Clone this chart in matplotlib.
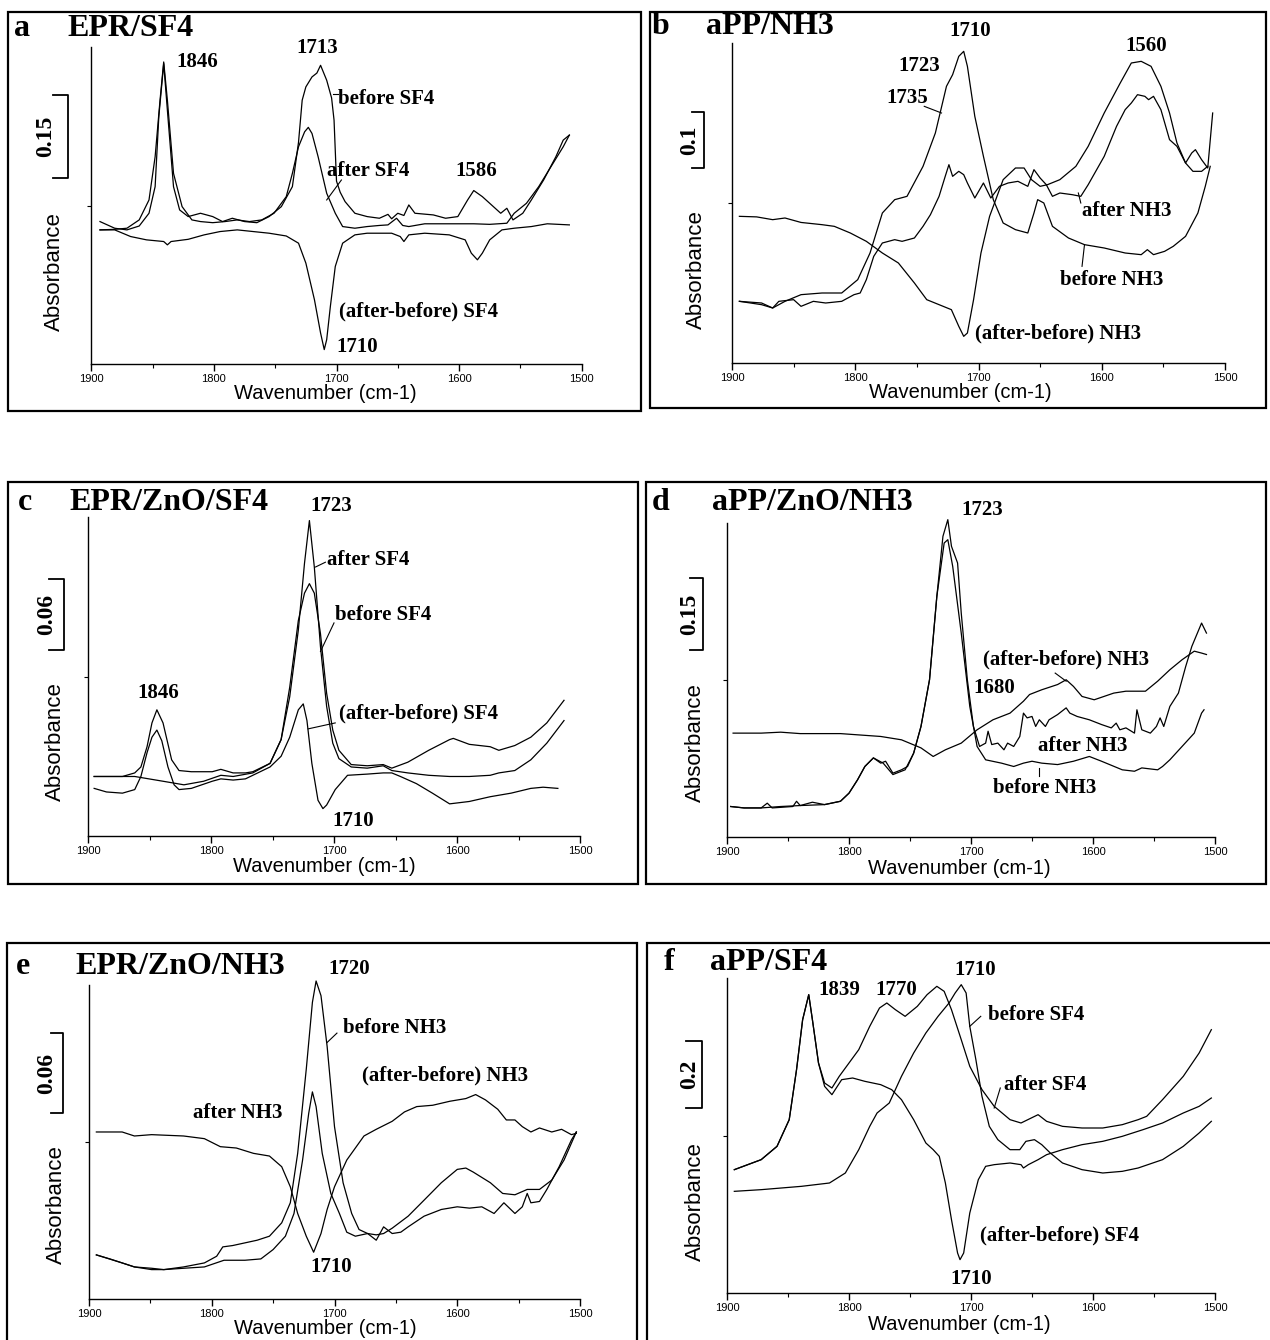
import numpy as np
import matplotlib
matplotlib.use('Agg')
import matplotlib.pyplot as plt
import matplotlib.transforms as mtransforms
from matplotlib.patches import Rectangle
from matplotlib.ticker import MultipleLocator

W, H = 1270, 1340
SERIF = ['Liberation Serif', 'DejaVu Serif']
SANS = ['Liberation Sans', 'DejaVu Sans']

# ---- spectra: (wavenumber cm-1, absorbance) ----
a_before = [(1893, 0.257), (1881, 0.245), (1871, 0.242), (1861, 0.249), (1853, 0.272), (1848, 0.320),
            (1845, 0.446), (1841, 0.542), (1838, 0.458), (1833, 0.320), (1828, 0.278), (1821, 0.266),
            (1811, 0.272), (1801, 0.266), (1793, 0.257), (1785, 0.263), (1775, 0.257), (1765, 0.255),
            (1755, 0.266), (1745, 0.284), (1736, 0.320), (1731, 0.400), (1728, 0.476), (1725, 0.500),
            (1720, 0.518), (1716, 0.525), (1713, 0.539), (1708, 0.512), (1704, 0.480), (1702, 0.440),
            (1700, 0.330), (1697, 0.310), (1693, 0.293), (1685, 0.272), (1675, 0.266), (1665, 0.263),
            (1658, 0.270), (1655, 0.262), (1650, 0.272), (1645, 0.268), (1641, 0.287), (1636, 0.272),
            (1621, 0.269), (1611, 0.263), (1601, 0.266), (1593, 0.296), (1588, 0.313), (1581, 0.302),
            (1575, 0.290), (1566, 0.272), (1561, 0.281), (1556, 0.260), (1548, 0.272), (1541, 0.296),
            (1531, 0.332), (1521, 0.374), (1515, 0.404), (1510, 0.413)]
a_after = [(1893, 0.242), (1881, 0.243), (1871, 0.245), (1861, 0.260), (1853, 0.296), (1848, 0.374),
           (1844, 0.476), (1841, 0.545), (1838, 0.476), (1833, 0.344), (1826, 0.284), (1818, 0.260),
           (1811, 0.257), (1801, 0.255), (1791, 0.257), (1781, 0.260), (1771, 0.257), (1761, 0.260),
           (1751, 0.272), (1741, 0.302), (1736, 0.344), (1731, 0.392), (1726, 0.419), (1723, 0.427),
           (1720, 0.416), (1715, 0.374), (1708, 0.308), (1701, 0.272), (1695, 0.248), (1685, 0.245),
           (1675, 0.248), (1665, 0.250), (1658, 0.251), (1651, 0.263), (1646, 0.250), (1641, 0.248),
           (1628, 0.253), (1608, 0.253), (1588, 0.253), (1575, 0.252), (1561, 0.254), (1555, 0.272),
           (1545, 0.290), (1535, 0.320), (1525, 0.356), (1515, 0.392), (1510, 0.413)]
a_diff = [(1893, 0.242), (1881, 0.242), (1868, 0.230), (1855, 0.224), (1841, 0.221), (1838, 0.215),
          (1835, 0.221), (1821, 0.225), (1808, 0.233), (1795, 0.239), (1781, 0.242), (1768, 0.239),
          (1755, 0.236), (1741, 0.231), (1731, 0.218), (1725, 0.182), (1718, 0.116), (1713, 0.056),
          (1710, 0.026), (1708, 0.044), (1705, 0.104), (1701, 0.176), (1695, 0.218), (1685, 0.233),
          (1675, 0.236), (1655, 0.236), (1648, 0.230), (1645, 0.221), (1641, 0.233), (1628, 0.236),
          (1608, 0.233), (1595, 0.224), (1590, 0.200), (1585, 0.188), (1581, 0.200), (1575, 0.224),
          (1565, 0.242), (1555, 0.245), (1541, 0.248), (1528, 0.253), (1510, 0.251)]

b_before = [(1894, 0.111), (1876, 0.108), (1867, 0.099), (1857, 0.111), (1844, 0.123), (1827, 0.126),
            (1811, 0.126), (1798, 0.150), (1788, 0.198), (1778, 0.270), (1768, 0.294), (1758, 0.300),
            (1745, 0.354), (1735, 0.414), (1726, 0.498), (1721, 0.519), (1716, 0.552), (1712, 0.561),
            (1709, 0.534), (1703, 0.444), (1696, 0.372), (1688, 0.294), (1680, 0.252), (1670, 0.240),
            (1660, 0.234), (1655, 0.270), (1652, 0.294), (1647, 0.288), (1640, 0.246), (1627, 0.225),
            (1614, 0.213), (1598, 0.207), (1581, 0.198), (1568, 0.195), (1563, 0.204), (1558, 0.195),
            (1549, 0.201), (1542, 0.210), (1532, 0.228), (1522, 0.270), (1516, 0.318), (1512, 0.354)]
b_after = [(1894, 0.111), (1885, 0.108), (1876, 0.105), (1867, 0.099), (1862, 0.111), (1850, 0.114),
           (1844, 0.102), (1834, 0.111), (1824, 0.108), (1811, 0.111), (1801, 0.123), (1796, 0.126),
           (1791, 0.150), (1785, 0.192), (1778, 0.216), (1768, 0.222), (1762, 0.219), (1752, 0.225),
           (1745, 0.246), (1739, 0.267), (1732, 0.300), (1727, 0.336), (1724, 0.357), (1721, 0.336),
           (1716, 0.345), (1712, 0.339), (1709, 0.324), (1703, 0.297), (1696, 0.324), (1690, 0.297),
           (1683, 0.318), (1676, 0.324), (1668, 0.327), (1660, 0.318), (1655, 0.348), (1650, 0.333),
           (1645, 0.321), (1640, 0.300), (1634, 0.306), (1624, 0.303), (1617, 0.300), (1611, 0.321),
           (1598, 0.372), (1588, 0.426), (1581, 0.456), (1576, 0.468), (1571, 0.483), (1565, 0.480),
           (1562, 0.474), (1558, 0.480), (1552, 0.456), (1545, 0.402), (1539, 0.390), (1532, 0.360),
           (1527, 0.378), (1524, 0.384), (1519, 0.366), (1514, 0.351), (1510, 0.450)]
b_diff = [(1894, 0.264), (1880, 0.263), (1867, 0.258), (1857, 0.261), (1844, 0.253), (1827, 0.249),
          (1817, 0.246), (1804, 0.234), (1791, 0.219), (1778, 0.198), (1765, 0.180), (1752, 0.144),
          (1742, 0.114), (1732, 0.105), (1722, 0.096), (1716, 0.066), (1712, 0.048), (1709, 0.054),
          (1704, 0.114), (1698, 0.198), (1691, 0.264), (1686, 0.294), (1680, 0.330), (1670, 0.351),
          (1663, 0.351), (1657, 0.330), (1650, 0.318), (1644, 0.321), (1634, 0.330), (1621, 0.354),
          (1611, 0.390), (1598, 0.450), (1585, 0.504), (1576, 0.540), (1568, 0.543), (1560, 0.534),
          (1552, 0.498), (1545, 0.450), (1539, 0.396), (1532, 0.360), (1526, 0.345), (1519, 0.345),
          (1514, 0.354)]

c_after = [(1895, 0.050), (1885, 0.050), (1872, 0.050), (1862, 0.053), (1857, 0.058), (1852, 0.075),
           (1848, 0.095), (1844, 0.106), (1839, 0.095), (1832, 0.064), (1826, 0.055), (1816, 0.054),
           (1806, 0.054), (1799, 0.054), (1792, 0.056), (1782, 0.053), (1772, 0.053), (1766, 0.054),
           (1752, 0.061), (1743, 0.081), (1736, 0.117), (1729, 0.173), (1724, 0.229), (1720, 0.265),
           (1716, 0.226), (1711, 0.159), (1706, 0.109), (1701, 0.078), (1696, 0.065), (1686, 0.058),
           (1673, 0.057), (1660, 0.059), (1653, 0.055), (1640, 0.053), (1623, 0.051), (1606, 0.050),
           (1590, 0.050), (1573, 0.051), (1566, 0.053), (1553, 0.055), (1540, 0.064), (1527, 0.078),
           (1513, 0.097)]
c_before = [(1895, 0.050), (1872, 0.050), (1862, 0.050), (1839, 0.046), (1822, 0.043), (1806, 0.046),
            (1792, 0.051), (1782, 0.050), (1766, 0.053), (1752, 0.061), (1743, 0.081), (1736, 0.125),
            (1729, 0.181), (1724, 0.204), (1720, 0.212), (1716, 0.204), (1711, 0.170), (1706, 0.120),
            (1701, 0.089), (1696, 0.072), (1686, 0.060), (1673, 0.059), (1660, 0.060), (1653, 0.057),
            (1640, 0.062), (1623, 0.072), (1606, 0.081), (1603, 0.082), (1590, 0.077), (1573, 0.075),
            (1566, 0.072), (1553, 0.076), (1540, 0.083), (1527, 0.095), (1513, 0.114)]
c_diff = [(1895, 0.040), (1885, 0.037), (1872, 0.036), (1862, 0.039), (1857, 0.050), (1852, 0.070),
          (1848, 0.083), (1844, 0.089), (1840, 0.080), (1835, 0.058), (1830, 0.043), (1826, 0.039),
          (1816, 0.040), (1799, 0.046), (1792, 0.048), (1782, 0.047), (1772, 0.048), (1762, 0.053),
          (1752, 0.058), (1743, 0.067), (1736, 0.083), (1729, 0.106), (1725, 0.111), (1722, 0.097),
          (1718, 0.061), (1713, 0.030), (1709, 0.023), (1706, 0.026), (1699, 0.039), (1689, 0.051),
          (1673, 0.052), (1660, 0.053), (1653, 0.053), (1646, 0.050), (1633, 0.044), (1620, 0.036),
          (1606, 0.027), (1590, 0.029), (1573, 0.033), (1556, 0.036), (1540, 0.040), (1530, 0.041),
          (1518, 0.040)]

d_before = [(1897, 0.064), (1886, 0.061), (1872, 0.061), (1856, 0.064), (1840, 0.066), (1820, 0.068),
            (1807, 0.075), (1800, 0.092), (1793, 0.120), (1787, 0.148), (1780, 0.166), (1772, 0.155),
            (1764, 0.131), (1754, 0.141), (1747, 0.176), (1741, 0.232), (1734, 0.330), (1728, 0.505),
            (1722, 0.617), (1719, 0.624), (1715, 0.568), (1708, 0.428), (1701, 0.274), (1695, 0.190),
            (1688, 0.162), (1675, 0.155), (1665, 0.148), (1657, 0.155), (1650, 0.159), (1642, 0.155),
            (1629, 0.152), (1616, 0.159), (1603, 0.169), (1593, 0.159), (1576, 0.141), (1566, 0.138),
            (1560, 0.145), (1547, 0.141), (1543, 0.148), (1537, 0.162), (1527, 0.190), (1517, 0.218),
            (1511, 0.260), (1509, 0.267)]
d_after = [(1897, 0.064), (1886, 0.061), (1872, 0.061), (1867, 0.071), (1863, 0.061), (1846, 0.064),
           (1843, 0.075), (1840, 0.066), (1830, 0.073), (1820, 0.068), (1807, 0.075), (1800, 0.092),
           (1793, 0.120), (1787, 0.148), (1780, 0.166), (1774, 0.155), (1770, 0.159), (1764, 0.134),
           (1757, 0.141), (1752, 0.148), (1747, 0.176), (1741, 0.232), (1734, 0.330), (1728, 0.505),
           (1723, 0.631), (1719, 0.666), (1716, 0.610), (1711, 0.575), (1708, 0.470), (1703, 0.330),
           (1698, 0.232), (1693, 0.190), (1688, 0.197), (1686, 0.222), (1683, 0.194), (1678, 0.197),
           (1673, 0.183), (1670, 0.197), (1665, 0.190), (1660, 0.211), (1657, 0.260), (1654, 0.250),
           (1650, 0.253), (1647, 0.232), (1644, 0.246), (1639, 0.232), (1636, 0.246), (1629, 0.257),
           (1622, 0.271), (1619, 0.260), (1613, 0.253), (1603, 0.246), (1593, 0.236), (1585, 0.229),
           (1581, 0.239), (1578, 0.225), (1573, 0.229), (1566, 0.218), (1564, 0.267), (1560, 0.225),
           (1553, 0.218), (1548, 0.232), (1545, 0.250), (1542, 0.232), (1537, 0.274), (1530, 0.302),
           (1524, 0.358), (1519, 0.400), (1511, 0.449), (1507, 0.428)]
d_diff = [(1895, 0.218), (1872, 0.218), (1856, 0.220), (1840, 0.217), (1807, 0.217), (1774, 0.211),
          (1757, 0.204), (1741, 0.187), (1731, 0.169), (1721, 0.183), (1708, 0.197), (1695, 0.225),
          (1682, 0.246), (1668, 0.260), (1657, 0.285), (1652, 0.299), (1642, 0.309), (1629, 0.320),
          (1622, 0.330), (1616, 0.316), (1609, 0.295), (1599, 0.288), (1583, 0.302), (1573, 0.306),
          (1557, 0.306), (1547, 0.327), (1537, 0.351), (1527, 0.372), (1517, 0.390), (1511, 0.386),
          (1507, 0.383)]

e_before = [(1894, 0.033), (1883, 0.030), (1873, 0.027), (1863, 0.024), (1849, 0.023), (1839, 0.022),
            (1823, 0.024), (1806, 0.027), (1796, 0.032), (1791, 0.039), (1783, 0.040), (1773, 0.042),
            (1763, 0.044), (1753, 0.047), (1743, 0.057), (1736, 0.072), (1730, 0.109), (1723, 0.172),
            (1718, 0.222), (1715, 0.238), (1711, 0.227), (1706, 0.189), (1700, 0.129), (1693, 0.087),
            (1686, 0.064), (1680, 0.052), (1673, 0.049), (1666, 0.044), (1660, 0.054), (1653, 0.049),
            (1646, 0.050), (1640, 0.054), (1627, 0.062), (1613, 0.067), (1600, 0.069), (1590, 0.068),
            (1580, 0.069), (1570, 0.064), (1562, 0.072), (1553, 0.064), (1547, 0.069), (1543, 0.079),
            (1540, 0.072), (1533, 0.073), (1527, 0.082), (1517, 0.099), (1507, 0.119), (1503, 0.125)]
e_after = [(1894, 0.033), (1873, 0.027), (1863, 0.024), (1849, 0.022), (1839, 0.022), (1823, 0.023),
           (1806, 0.024), (1790, 0.029), (1773, 0.029), (1760, 0.030), (1750, 0.037), (1740, 0.047),
           (1733, 0.064), (1726, 0.104), (1721, 0.139), (1718, 0.155), (1715, 0.144), (1710, 0.109),
           (1703, 0.079), (1696, 0.064), (1690, 0.050), (1683, 0.047), (1673, 0.049), (1666, 0.048),
           (1660, 0.049), (1653, 0.053), (1640, 0.062), (1627, 0.074), (1613, 0.087), (1600, 0.097),
           (1593, 0.098), (1587, 0.095), (1573, 0.087), (1563, 0.079), (1553, 0.078), (1543, 0.082),
           (1533, 0.082), (1523, 0.089), (1513, 0.104), (1503, 0.125)]
e_diff = [(1894, 0.125), (1873, 0.125), (1863, 0.122), (1849, 0.123), (1823, 0.122), (1806, 0.120),
          (1793, 0.114), (1780, 0.113), (1766, 0.109), (1753, 0.107), (1743, 0.099), (1736, 0.084),
          (1730, 0.064), (1723, 0.047), (1717, 0.035), (1711, 0.049), (1706, 0.067), (1700, 0.084),
          (1690, 0.104), (1676, 0.122), (1666, 0.127), (1653, 0.133), (1643, 0.140), (1633, 0.144),
          (1620, 0.145), (1606, 0.148), (1593, 0.150), (1585, 0.153), (1577, 0.149), (1567, 0.142),
          (1560, 0.134), (1553, 0.134), (1547, 0.129), (1540, 0.125), (1533, 0.128), (1523, 0.125),
          (1515, 0.127), (1507, 0.123), (1503, 0.124)]

f_after = [(1894, 0.370), (1872, 0.400), (1859, 0.440), (1849, 0.520), (1843, 0.670), (1838, 0.820),
           (1833, 0.895), (1830, 0.820), (1825, 0.690), (1820, 0.630), (1814, 0.615), (1808, 0.650),
           (1800, 0.690), (1792, 0.730), (1783, 0.800), (1775, 0.855), (1769, 0.870), (1762, 0.850),
           (1754, 0.830), (1744, 0.860), (1736, 0.895), (1728, 0.920), (1722, 0.905), (1716, 0.850),
           (1708, 0.760), (1701, 0.680), (1691, 0.610), (1681, 0.560), (1668, 0.520), (1659, 0.510),
           (1645, 0.535), (1638, 0.515), (1625, 0.500), (1609, 0.495), (1592, 0.495), (1576, 0.505),
           (1563, 0.520), (1556, 0.530), (1543, 0.580), (1526, 0.650), (1513, 0.720), (1503, 0.790)]
f_diff = [(1894, 0.370), (1872, 0.400), (1859, 0.440), (1849, 0.520), (1843, 0.670), (1838, 0.820),
          (1833, 0.895), (1830, 0.820), (1825, 0.690), (1820, 0.620), (1814, 0.595), (1806, 0.640),
          (1797, 0.645), (1787, 0.635), (1774, 0.625), (1765, 0.610), (1757, 0.580), (1747, 0.520),
          (1737, 0.450), (1731, 0.430), (1726, 0.410), (1721, 0.330), (1716, 0.220), (1711, 0.120),
          (1709, 0.100), (1706, 0.120), (1701, 0.240), (1694, 0.340), (1688, 0.380), (1681, 0.385),
          (1668, 0.390), (1659, 0.385), (1657, 0.375), (1653, 0.385), (1645, 0.400), (1638, 0.415),
          (1625, 0.430), (1609, 0.445), (1592, 0.455), (1576, 0.470), (1559, 0.490), (1543, 0.510),
          (1526, 0.540), (1513, 0.560), (1503, 0.585)]
f_before = [(1894, 0.305), (1872, 0.310), (1839, 0.320), (1816, 0.330), (1803, 0.360), (1792, 0.430),
            (1783, 0.500), (1777, 0.540), (1767, 0.570), (1757, 0.650), (1747, 0.720), (1737, 0.780),
            (1727, 0.830), (1718, 0.870), (1713, 0.900), (1708, 0.925), (1704, 0.900), (1701, 0.800),
            (1696, 0.700), (1691, 0.590), (1685, 0.500), (1678, 0.460), (1668, 0.430), (1660, 0.430),
            (1655, 0.455), (1648, 0.460), (1642, 0.445), (1635, 0.420), (1625, 0.390), (1609, 0.370),
            (1592, 0.360), (1576, 0.365), (1563, 0.375), (1543, 0.400), (1526, 0.440), (1513, 0.480),
            (1503, 0.515)]

# scale bar values (absorbance) and their labels
bar_values = {'a': 0.15, 'b': 0.1, 'c': 0.06, 'd': 0.15, 'e': 0.06, 'f': 0.2}
bar_labels = {'a': '0.15', 'b': '0.1', 'c': '0.06', 'd': '0.15', 'e': '0.06', 'f': '0.2'}
titles = {'a': 'EPR/SF4', 'b': 'aPP/NH3', 'c': 'EPR/ZnO/SF4',
          'd': 'aPP/ZnO/NH3', 'e': 'EPR/ZnO/NH3', 'f': 'aPP/SF4'}
x_ticks = [1900, 1800, 1700, 1600, 1500]

# ---- layout (pixel positions in the 1270x1340 picture) ----
panels = {
    'a': dict(curves=[a_before, a_after, a_diff], ax=(91.4, 47, 581.6, 364), ytop=0.572,
              box=(8, 12, 641, 411), letter=(14, 28), title_x=67,
              bar=(68, 53, 46, 0.335), ylab=(54, 272), xlab=(325, 393),
              labels=[('1846', 1831, 0.545), ('1713', 1733, 0.571), ('before SF4', 1699, 0.479),
                      ('after SF4', 1708, 0.349), ('1586', 1603, 0.349),
                      ('(after-before) SF4', 1698, 0.095), ('1710', 1700, 0.030)],
              leaders=[(1696, 0.332, 1708, 0.296), (1703, 0.488, 1699, 0.488)]),
    'b': dict(curves=[b_before, b_after, b_diff], ax=(732, 43, 1225, 363), ytop=0.576,
              box=(650, 12, 1266, 408), letter=(652, 27), title_x=706,
              bar=(704, 692, 690, 0.351), ylab=(696, 270), xlab=(960, 392),
              labels=[('1710', 1724, 0.597), ('1723', 1765, 0.534), ('1735', 1775, 0.477),
                      ('1560', 1581, 0.570), ('after NH3', 1616, 0.273),
                      ('before NH3', 1634, 0.150), ('(after-before) NH3', 1703, 0.054)],
              leaders=[(1744, 0.462, 1730, 0.450), (1614, 0.213, 1616, 0.174),
                       (1619, 0.306, 1617, 0.288)]),
    'c': dict(curves=[c_after, c_before, c_diff], ax=(88, 517, 580, 836), ytop=0.268,
              box=(8, 482, 638, 884), letter=(18, 503), title_x=69,
              bar=(64, 49, 47, 0.156), ylab=(55, 742), xlab=(324, 867),
              labels=[('1846', 1860, 0.120), ('1723', 1719, 0.277), ('after SF4', 1706, 0.232),
                      ('before SF4', 1699, 0.186), ('(after-before) SF4', 1696, 0.103),
                      ('1710', 1701, 0.013)],
              leaders=[(1715, 0.226, 1707, 0.230), (1711, 0.155, 1700, 0.179),
                       (1721, 0.090, 1699, 0.095)]),
    'd': dict(curves=[d_before, d_after, d_diff], ax=(727, 523, 1215, 837), ytop=0.659,
              box=(646, 482, 1266, 884), letter=(652, 502), title_x=712,
              bar=(703, 690, 690, 0.393), ylab=(695, 743), xlab=(959, 868),
              labels=[('1723', 1708, 0.687), ('(after-before) NH3', 1690, 0.372),
                      ('1680', 1698, 0.313), ('after NH3', 1645, 0.190), ('before NH3', 1682, 0.103)],
              leaders=[(1631, 0.344, 1622, 0.327), (1644, 0.145, 1644, 0.127)]),
    'e': dict(curves=[e_before, e_after, e_diff], ax=(89, 985, 580, 1299), ytop=0.235,
              box=(7, 943, 637, 1352), letter=(16, 967), title_x=75,
              bar=(63, 51, 47, 0.139), ylab=(56, 1205), xlab=(325, 1329),
              labels=[('1720', 1705, 0.247), ('before NH3', 1693, 0.203),
                      ('(after-before) NH3', 1678, 0.167), ('after NH3', 1815, 0.139),
                      ('1710', 1720, 0.024)],
              leaders=[(1706, 0.192, 1698, 0.199)]),
    'f': dict(curves=[f_after, f_diff, f_before], ax=(727, 978, 1215, 1293), ytop=0.945,
              box=(647, 943, 1275, 1352), letter=(664, 963), title_x=710,
              bar=(702, 686, 690, 0.555), ylab=(695, 1202), xlab=(959, 1324),
              labels=[('1839', 1825, 0.908), ('1770', 1778, 0.908), ('1710', 1714, 0.968),
                      ('before SF4', 1686, 0.833), ('after SF4', 1673, 0.623),
                      ('(after-before) SF4', 1693, 0.173), ('1710', 1717, 0.043)],
              leaders=[(1701, 0.800, 1692, 0.830), (1681, 0.555, 1676, 0.615)]),
}


def fx(x):
    return x / W


def fy(y):
    return 1 - y / H


fig = plt.figure(figsize=(W / 100, H / 100), dpi=100)

for key, p in panels.items():
    left, top, right, bottom = p['ax']
    ax = fig.add_axes([fx(left), fy(bottom), (right - left) / W, (bottom - top) / H])

    for curve in p['curves']:
        wn, ab = np.array(curve).T
        ax.plot(wn, ab, color='black', lw=0.9, clip_on=False)

    ax.set_xlim(1900, 1500)
    ax.set_ylim(0, p['ytop'])
    for s in ['top', 'right']:
        ax.spines[s].set_visible(False)
    for s in ['left', 'bottom']:
        ax.spines[s].set_linewidth(1.0)
    ax.set_xticks(x_ticks)
    ax.set_xticklabels([str(t) for t in x_ticks], family=SANS, fontsize=8)
    ax.xaxis.set_minor_locator(MultipleLocator(50))
    ax.tick_params(axis='x', which='major', direction='out', length=5, width=1, pad=2)
    ax.tick_params(axis='x', which='minor', direction='out', length=3, width=0.8)
    ax.set_yticks([p['ytop'] / 2])
    ax.set_yticklabels([])
    ax.tick_params(axis='y', direction='out', length=3, width=0.8)

    # peak and curve labels
    for text, wn, ab in p['labels']:
        ax.text(wn, ab, text, ha='left', va='center', fontsize=15, weight='bold', family=SERIF)
    for x0, y0, x1, y1 in p['leaders']:
        ax.plot([x0, x1], [y0, y1], color='black', lw=0.8, clip_on=False)

    # scale bar, drawn in data units on the y side
    bx, tx, lx, b0 = p['bar']
    width = right - left
    trans = mtransforms.blended_transform_factory(ax.transAxes, ax.transData)
    bxf, txf, lxf = (bx - left) / width, (tx - left) / width, (lx - left) / width
    val = bar_values[key]
    ax.plot([txf, bxf, bxf, txf], [b0, b0, b0 + val, b0 + val], transform=trans,
            color='black', lw=1.3, clip_on=False)
    ax.text(lxf, b0 + val / 2, bar_labels[key], transform=trans, rotation=90,
            ha='center', va='center', fontsize=17, weight='bold', family=SERIF)

    # axis titles
    fig.text(fx(p['ylab'][0]), fy(p['ylab'][1]), 'Absorbance', rotation=90,
             ha='center', va='center', fontsize=16, family=SANS)
    fig.text(fx(p['xlab'][0]), fy(p['xlab'][1]), 'Wavenumber (cm-1)',
             ha='center', va='center', fontsize=14.5, family=SANS)

    # panel letter and title
    fig.text(fx(p['letter'][0]), fy(p['letter'][1]), key, ha='left', va='center',
             fontsize=23, weight='bold', family=SERIF)
    fig.text(fx(p['title_x']), fy(p['letter'][1]), titles[key], ha='left', va='center',
             fontsize=23, weight='bold', family=SERIF)

    # frame around the panel
    x0, y0, x1, y1 = p['box']
    fig.add_artist(Rectangle((fx(x0), fy(y1)), (x1 - x0) / W, (y1 - y0) / H,
                             transform=fig.transFigure, fill=False, lw=1.6, color='black'))

fig.savefig('out.png', dpi=100)
